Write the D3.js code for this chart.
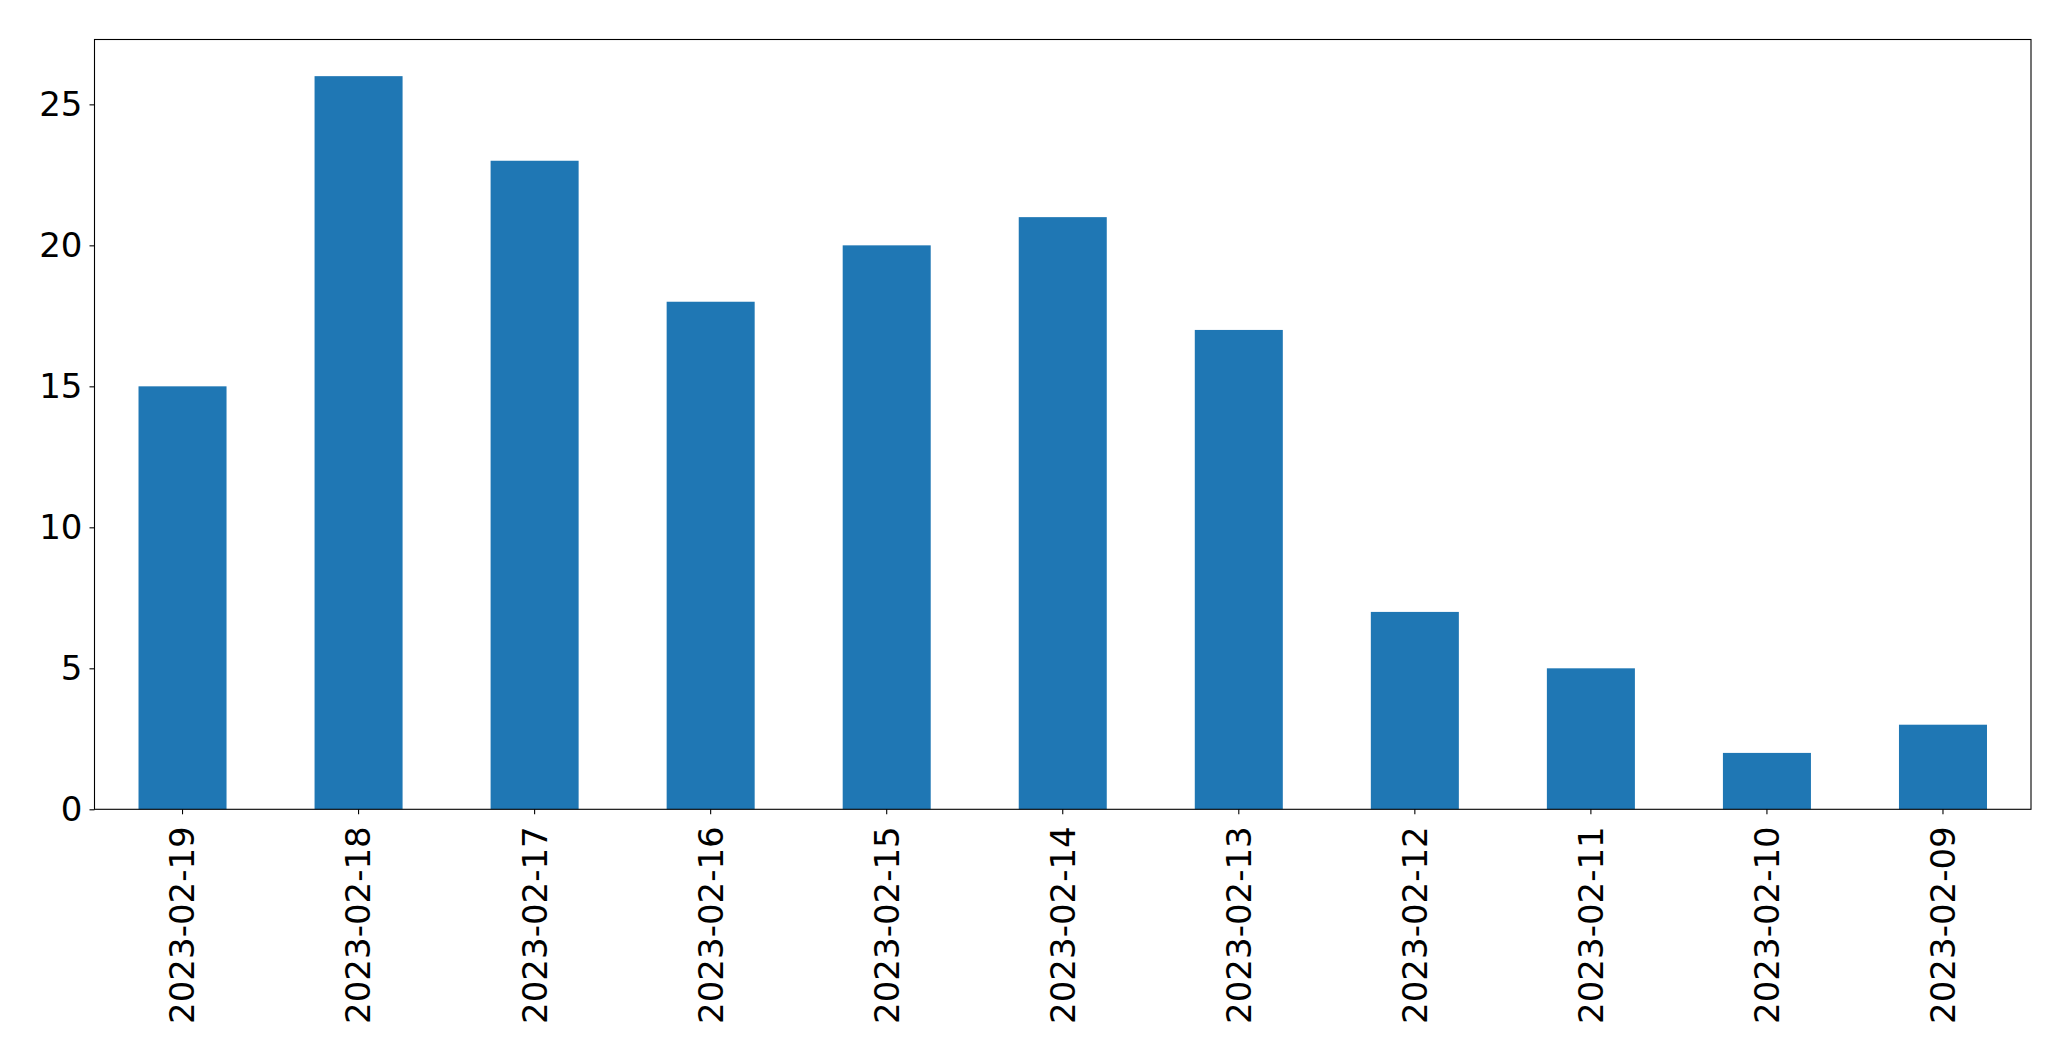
<!DOCTYPE html>
<html>
<head>
<meta charset="utf-8">
<script src="https://cdn.jsdelivr.net/npm/d3@7"></script>
<style>
html, body { margin: 0; padding: 0; background: #fff; }
svg { display: block; }
text { font-family: "DejaVu Sans", sans-serif; }
</style>
</head>
<body>
<svg id="chart" width="2071" height="1061"></svg>
<script>
const categories = ["2023-02-19","2023-02-18","2023-02-17","2023-02-16","2023-02-15","2023-02-14","2023-02-13","2023-02-12","2023-02-11","2023-02-10","2023-02-09"];
const values = [15, 26, 23, 18, 20, 21, 17, 7, 5, 2, 3];
const yTicks = [0, 5, 10, 15, 20, 25];

const W = 2071, H = 1061;
const m = { left: 94.5, right: 2031, top: 39.5, bottom: 809.3 };
const svg = d3.select("#chart");

const x = d3.scaleBand().domain(categories).range([m.left, m.right]).paddingInner(0.5).paddingOuter(0.25);
const y = d3.scaleLinear().domain([0, d3.max(values) * 1.05]).range([m.bottom, m.top]);

svg.append("g").selectAll("rect").data(values).join("rect")
  .attr("x", (d, i) => x(categories[i]))
  .attr("width", x.bandwidth())
  .attr("y", d => y(d))
  .attr("height", d => y(0) - y(d))
  .attr("fill", "#1f77b4");

// frame
svg.append("rect")
  .attr("x", m.left).attr("y", m.top)
  .attr("width", m.right - m.left).attr("height", m.bottom - m.top)
  .attr("fill", "none").attr("stroke", "#000").attr("stroke-width", 1.1);

// y axis
const yAxis = svg.append("g").attr("transform", `translate(${m.left},0)`)
  .call(d3.axisLeft(y).tickValues(yTicks).tickSize(5).tickPadding(7).tickFormat(d3.format("d")));
yAxis.select(".domain").remove();
yAxis.selectAll(".tick line").attr("stroke", "#000").attr("stroke-width", 1.1);
yAxis.selectAll(".tick text").attr("font-size", "34px").attr("fill", "#000")
  .attr("font-family", "DejaVu Sans, sans-serif");

// x axis
const xAxis = svg.append("g").attr("transform", `translate(0,${m.bottom})`)
  .call(d3.axisBottom(x).tickSize(5).tickPadding(0));
xAxis.select(".domain").remove();
xAxis.selectAll(".tick line").attr("stroke", "#000").attr("stroke-width", 1.1);
xAxis.selectAll(".tick text")
  .attr("font-size", "34px").attr("fill", "#000")
  .attr("font-family", "DejaVu Sans, sans-serif")
  .attr("transform", "translate(0,17) rotate(-90)")
  .attr("text-anchor", "end")
  .attr("x", 0).attr("y", 0)
  .attr("dy", "0.35em");
</script>
</body>
</html>
